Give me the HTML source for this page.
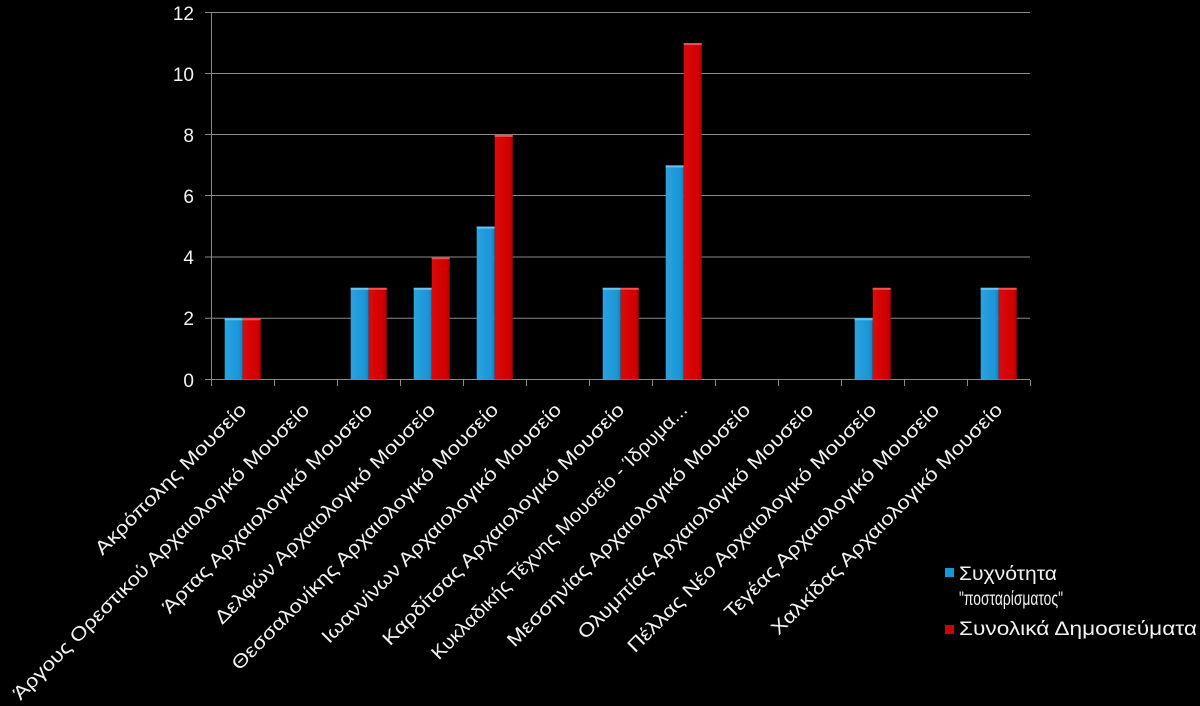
<!DOCTYPE html>
<html><head><meta charset="utf-8"><style>
html,body{margin:0;padding:0;background:#000;}
svg{display:block;}
text{font-family:"Liberation Sans","DejaVu Sans",sans-serif;fill:#f2f2f2;}
</style></head><body>
<svg width="1200" height="706" viewBox="0 0 1200 706" xmlns="http://www.w3.org/2000/svg">
<defs>
<linearGradient id="gb" x1="0" x2="1" y1="0" y2="0">
<stop offset="0" stop-color="#2aa3e0"/><stop offset="0.8" stop-color="#1a95d6"/><stop offset="1" stop-color="#1380bd"/>
</linearGradient>
<linearGradient id="gr" x1="0" x2="1" y1="0" y2="0">
<stop offset="0" stop-color="#dc0a0a"/><stop offset="0.8" stop-color="#d00000"/><stop offset="1" stop-color="#b00000"/>
</linearGradient>
</defs>
<rect width="1200" height="706" fill="#000"/>
<g stroke="#8a8a8a" stroke-width="1">
<line x1="205" y1="12.5" x2="1030" y2="12.5"/>
<line x1="205" y1="73.5" x2="1030" y2="73.5"/>
<line x1="205" y1="134.5" x2="1030" y2="134.5"/>
<line x1="205" y1="195.5" x2="1030" y2="195.5"/>
<line x1="205" y1="257" x2="1030" y2="257"/>
<line x1="205" y1="318.3" x2="1030" y2="318.3"/>
<line x1="205" y1="379.5" x2="1030" y2="379.5"/>
<line x1="211.5" y1="12" x2="211.5" y2="380"/>
<line x1="211.5" y1="380" x2="211.5" y2="386"/>
<line x1="274.5" y1="380" x2="274.5" y2="386"/>
<line x1="337.5" y1="380" x2="337.5" y2="386"/>
<line x1="400.5" y1="380" x2="400.5" y2="386"/>
<line x1="463.5" y1="380" x2="463.5" y2="386"/>
<line x1="526.5" y1="380" x2="526.5" y2="386"/>
<line x1="589.5" y1="380" x2="589.5" y2="386"/>
<line x1="652.5" y1="380" x2="652.5" y2="386"/>
<line x1="715.5" y1="380" x2="715.5" y2="386"/>
<line x1="778.5" y1="380" x2="778.5" y2="386"/>
<line x1="841.5" y1="380" x2="841.5" y2="386"/>
<line x1="904.5" y1="380" x2="904.5" y2="386"/>
<line x1="967.5" y1="380" x2="967.5" y2="386"/>
<line x1="1030.5" y1="380" x2="1030.5" y2="386"/>
</g>
<g font-size="19" text-anchor="end">
<text x="194" y="20">12</text>
<text x="194" y="81">10</text>
<text x="194" y="142">8</text>
<text x="194" y="203">6</text>
<text x="194" y="264">4</text>
<text x="194" y="325">2</text>
<text x="194" y="387">0</text>
</g>
<g id="bars">
<!-- i0 cx=242.7 -->
<rect x="224.7" y="318.3" width="18" height="61.2" fill="url(#gb)"/><rect x="224.7" y="318.3" width="18" height="2" fill="#6cc2ee"/>
<rect x="242.7" y="318.3" width="18" height="61.2" fill="url(#gr)"/><rect x="242.7" y="318.3" width="18" height="2" fill="#f05050"/>
<!-- i2 cx=368.7 -->
<rect x="350.7" y="287.8" width="18" height="91.7" fill="url(#gb)"/><rect x="350.7" y="287.8" width="18" height="2" fill="#6cc2ee"/>
<rect x="368.7" y="287.8" width="18" height="91.7" fill="url(#gr)"/><rect x="368.7" y="287.8" width="18" height="2" fill="#f05050"/>
<!-- i3 cx=431.7 -->
<rect x="413.7" y="287.8" width="18" height="91.7" fill="url(#gb)"/><rect x="413.7" y="287.8" width="18" height="2" fill="#6cc2ee"/>
<rect x="431.7" y="257.2" width="18" height="122.3" fill="url(#gr)"/><rect x="431.7" y="257.2" width="18" height="2" fill="#f05050"/>
<!-- i4 cx=494.7 -->
<rect x="476.7" y="226.6" width="18" height="152.9" fill="url(#gb)"/><rect x="476.7" y="226.6" width="18" height="2" fill="#6cc2ee"/>
<rect x="494.7" y="134.9" width="18" height="244.6" fill="url(#gr)"/><rect x="494.7" y="134.9" width="18" height="2" fill="#f05050"/>
<!-- i6 cx=620.7 -->
<rect x="602.7" y="287.8" width="18" height="91.7" fill="url(#gb)"/><rect x="602.7" y="287.8" width="18" height="2" fill="#6cc2ee"/>
<rect x="620.7" y="287.8" width="18" height="91.7" fill="url(#gr)"/><rect x="620.7" y="287.8" width="18" height="2" fill="#f05050"/>
<!-- i7 cx=683.7 -->
<rect x="665.7" y="165.4" width="18" height="214.1" fill="url(#gb)"/><rect x="665.7" y="165.4" width="18" height="2" fill="#6cc2ee"/>
<rect x="683.7" y="43.1" width="18" height="336.4" fill="url(#gr)"/><rect x="683.7" y="43.1" width="18" height="2" fill="#f05050"/>
<!-- i10 cx=872.7 -->
<rect x="854.7" y="318.3" width="18" height="61.2" fill="url(#gb)"/><rect x="854.7" y="318.3" width="18" height="2" fill="#6cc2ee"/>
<rect x="872.7" y="287.8" width="18" height="91.7" fill="url(#gr)"/><rect x="872.7" y="287.8" width="18" height="2" fill="#f05050"/>
<!-- i12 cx=998.7 -->
<rect x="980.7" y="287.8" width="18" height="91.7" fill="url(#gb)"/><rect x="980.7" y="287.8" width="18" height="2" fill="#6cc2ee"/>
<rect x="998.7" y="287.8" width="18" height="91.7" fill="url(#gr)"/><rect x="998.7" y="287.8" width="18" height="2" fill="#f05050"/>
</g>
<g font-size="19" text-anchor="end">
<text transform="translate(247.5,411) rotate(-45)" textLength="205" lengthAdjust="spacingAndGlyphs">Ακρόπολης Μουσείο</text>
<text transform="translate(310.5,411) rotate(-45)" textLength="410" lengthAdjust="spacingAndGlyphs">Άργους Ορεστικού Αρχαιολογικό Μουσείο</text>
<text transform="translate(373.5,411) rotate(-45)" textLength="288" lengthAdjust="spacingAndGlyphs">Άρτας Αρχαιολογικό Μουσείο</text>
<text transform="translate(436.5,411) rotate(-45)" textLength="303" lengthAdjust="spacingAndGlyphs">Δελφών Αρχαιολογικό Μουσείο</text>
<text transform="translate(499.5,411) rotate(-45)" textLength="368" lengthAdjust="spacingAndGlyphs">Θεσσαλονίκης Αρχαιολογικό Μουσείο</text>
<text transform="translate(562.5,411) rotate(-45)" textLength="330" lengthAdjust="spacingAndGlyphs">Ιωαννίνων Αρχαιολογικό Μουσείο</text>
<text transform="translate(625.5,411) rotate(-45)" textLength="333" lengthAdjust="spacingAndGlyphs">Καρδίτσας Αρχαιολογικό Μουσείο</text>
<text transform="translate(688.5,411) rotate(-45)" textLength="353" lengthAdjust="spacingAndGlyphs">Κυκλαδικής Τέχνης Μουσείο - Ίδρυμα...</text>
<text transform="translate(751.5,411) rotate(-45)" textLength="335" lengthAdjust="spacingAndGlyphs">Μεσσηνίας Αρχαιολογικό Μουσείο</text>
<text transform="translate(814.5,411) rotate(-45)" textLength="324" lengthAdjust="spacingAndGlyphs">Ολυμπίας Αρχαιολογικό Μουσείο</text>
<text transform="translate(877.5,411) rotate(-45)" textLength="343" lengthAdjust="spacingAndGlyphs">Πέλλας Νέο Αρχαιολογικό Μουσείο</text>
<text transform="translate(940.5,411) rotate(-45)" textLength="295" lengthAdjust="spacingAndGlyphs">Τεγέας Αρχαιολογικό Μουσείο</text>
<text transform="translate(1003.5,411) rotate(-45)" textLength="318" lengthAdjust="spacingAndGlyphs">Χαλκίδας Αρχαιολογικό Μουσείο</text>
</g>
<rect x="945" y="568" width="9" height="9" fill="#1a95d6"/>
<rect x="945" y="625" width="9" height="9" fill="#d00000"/>
<g font-size="19">
<text x="959" y="580" textLength="98" lengthAdjust="spacingAndGlyphs">Συχνότητα</text>
<text x="959" y="605" textLength="104" lengthAdjust="spacingAndGlyphs">"ποσταρίσματος"</text>
<text x="959" y="635" textLength="238" lengthAdjust="spacingAndGlyphs">Συνολικά Δημοσιεύματα</text>
</g>
</svg>
</body></html>
